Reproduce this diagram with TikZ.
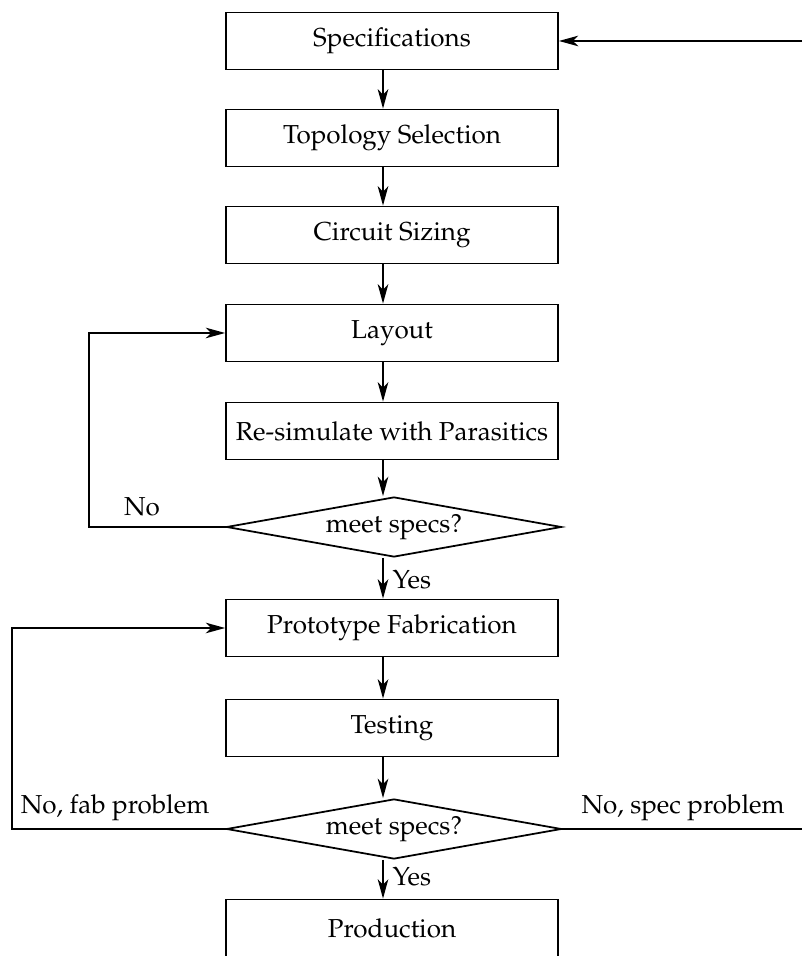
\documentclass[tikz,border=0pt]{standalone}
\usepackage[T1]{fontenc}
\usepackage{mathpazo}
\usepackage{xcolor}
\usepackage{tikz}
\usetikzlibrary{calc,arrows.meta,positioning,shapes.geometric}

\begin{document}
\begin{tikzpicture}[x=2cm, y=2cm, line width=1pt,
  font=\fontsize{14.8}{17}\selectfont,
  flowbox/.style={draw, rectangle, minimum width=6.64cm, minimum height=1.14cm, inner sep=0pt},
  decision/.style={draw, diamond, aspect=5.6, minimum width=6.7cm, minimum height=1.2cm, inner sep=0pt},
  flow/.style={-{Stealth[length=11pt, width=6pt, inset=3pt]}}]
\useasboundingbox (0,0) rectangle (8.02,9.56);

% design steps
\node[flowbox] (spec) at (3.92,9.15) {Specifications};
\node[flowbox] (topo) at (3.92,8.18) {Topology Selection};
\node[flowbox] (sizing) at (3.92,7.21) {Circuit Sizing};
\node[flowbox] (layout) at (3.92,6.23) {Layout};
\node[flowbox] (resim) at (3.92,5.25) {Re-simulate with Parasitics};
\node[decision] (chkA) at (3.94,4.29) {meet specs?};
\node[flowbox] (proto) at (3.92,3.28) {Prototype Fabrication};
\node[flowbox] (testing) at (3.92,2.28) {Testing};
\node[decision] (chkB) at (3.94,1.27) {meet specs?};
\node[flowbox] (prod) at (3.92,0.28) {Production};

\coordinate (axis) at (3.83,0);
\coordinate (loopA) at (0.89,0);
\coordinate (loopB) at (0.12,0);
\coordinate (rim) at (8.02,0);

% main flow
\draw[flow] (spec.south -| axis) -- (topo.north -| axis);
\draw[flow] (topo.south -| axis) -- (sizing.north -| axis);
\draw[flow] (sizing.south -| axis) -- (layout.north -| axis);
\draw[flow] (layout.south -| axis) -- (resim.north -| axis);
\draw[flow] (resim.south -| axis) -- (chkA.north -| axis);
\draw[flow] (chkA.south -| axis) -- (proto.north -| axis);
\draw[flow] (proto.south -| axis) -- (testing.north -| axis);
\draw[flow] (testing.south -| axis) -- (chkB.north -| axis);
\draw[flow] (chkB.south -| axis) -- (prod.north -| axis);

% feedback
\draw[flow] (chkA.west) -- (chkA.west -| loopA) |- (layout.west);
\draw[flow] (chkB.west) -- (chkB.west -| loopB) |- (proto.west);
\draw (chkB.east) -- (chkB.east -| rim);
\draw[flow] (spec.east -| rim) -- (spec.east);

\node (noA) at (1.42,4.49) {No};
\node[anchor=west] (yesA) at (3.86,3.76) {Yes};
\node (fabNo) at (1.15,1.48) {No, fab problem};
\node (specNo) at (6.83,1.48) {No, spec problem};
\node[anchor=west] (yesB) at (3.86,0.79) {Yes};
\end{tikzpicture}
\end{document}
